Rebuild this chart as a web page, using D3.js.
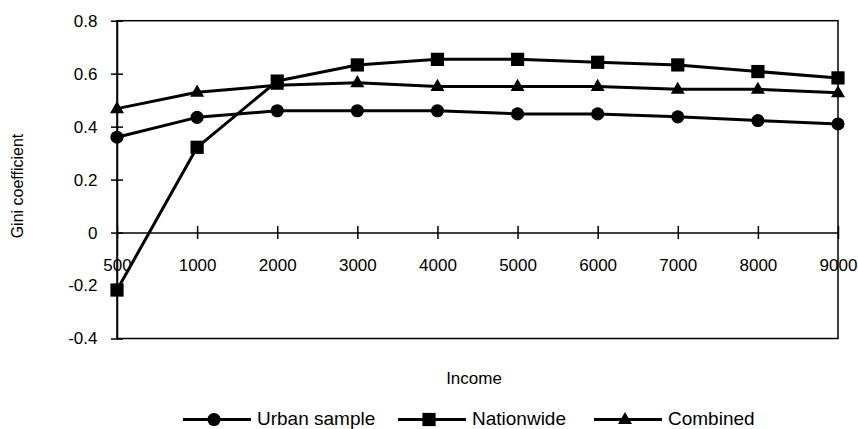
<!DOCTYPE html>
<html><head><meta charset="utf-8">
<script src="https://cdn.jsdelivr.net/npm/d3@7"></script>
<style>body{margin:0;background:#fff}svg{display:block}text{font-family:"Liberation Sans",Arial,sans-serif;fill:#000}</style>
</head><body><svg id="c" width="858" height="429"></svg>
<script>
const categories = ["500","1000","2000","3000","4000","5000","6000","7000","8000","9000"];
const urban    = [0.36, 0.435, 0.46, 0.46, 0.46, 0.448, 0.448, 0.437, 0.423, 0.41];
const national = [-0.217, 0.322, 0.572, 0.633, 0.654, 0.654, 0.643, 0.633, 0.608, 0.584];
const combined = [0.468, 0.53, 0.556, 0.566, 0.552, 0.552, 0.552, 0.541, 0.541, 0.528];
const yTicks = [-0.4, -0.2, 0, 0.2, 0.4, 0.6, 0.8];
const yTickLabels = ["-0.4", "-0.2", "0", "0.2", "0.4", "0.6", "0.8"];
const seriesNames = ["Urban sample", "Nationwide", "Combined"];
const seriesSymbols = ["circle", "square", "triangle"];

const svg = d3.select("#c");
const L = 117, R = 838, T = 20.7, B = 338.5;
const x = d3.scalePoint().domain(categories).range([L, R]).padding(0);
const y = d3.scaleLinear().domain([-0.4, 0.8]).range([B, T]);

// frame
svg.append("rect").attr("x", L).attr("y", T).attr("width", R - L).attr("height", B - T)
  .attr("fill", "none").attr("stroke", "#000").attr("stroke-width", 1.5);

// y axis
const yAxis = d3.axisLeft(y).tickValues(yTicks).tickSizeInner(6).tickSizeOuter(0)
  .tickFormat((d, i) => yTickLabels[i]);
const gy = svg.append("g").attr("transform", `translate(${L},0)`).call(yAxis);
gy.select(".domain").attr("stroke-width", 1.5);
gy.selectAll(".tick line").attr("x1", -6).attr("x2", 6).attr("stroke-width", 1.5);
gy.selectAll(".tick text").attr("x", -19.5).attr("font-size", 17).attr("font-family", "Liberation Sans, Arial, sans-serif");

// x axis at zero
const xAxis = d3.axisBottom(x).tickSizeInner(6.5).tickSizeOuter(0);
const gx = svg.append("g").attr("transform", `translate(0,${y(0)})`).call(xAxis);
gx.select(".domain").attr("stroke-width", 1.5);
gx.selectAll(".tick line").attr("y1", -6.5).attr("y2", 6.5).attr("stroke-width", 1.5);
gx.selectAll(".tick text").attr("y", 38).attr("dy", 0).attr("font-size", 17).attr("font-family", "Liberation Sans, Arial, sans-serif");

// axis titles
svg.append("text").attr("x", 474).attr("y", 383.5).attr("text-anchor", "middle")
  .attr("font-size", 17).text("Income");
svg.append("text").attr("transform", "translate(22.5,186) rotate(-90)").attr("text-anchor", "middle")
  .attr("font-size", 16).text("Gini coefficient");

// series
const data = [urban, national, combined];
const symType = {circle: d3.symbolCircle, square: d3.symbolSquare, triangle: d3.symbolTriangle};
const symSize = {circle: 135, square: 175, triangle: 85};
const line = d3.line().x((d, i) => x(categories[i])).y(d => y(d));
function drawMarker(g, type, cx, cy) {
  g.append("path").attr("d", d3.symbol().type(symType[type]).size(symSize[type])())
    .attr("transform", `translate(${cx},${cy + (type === "triangle" ? 0.5 : 0)})`).attr("fill", "#000");
}
data.forEach((vals, si) => {
  svg.append("path").datum(vals).attr("d", line).attr("fill", "none")
    .attr("stroke", "#000").attr("stroke-width", 3).attr("stroke-linejoin", "round");
  const g = svg.append("g");
  vals.forEach((v, i) => drawMarker(g, seriesSymbols[si], x(categories[i]), y(v)));
});

// legend
const legendX = [183, 398, 594];
const legY = 419.5;
seriesNames.forEach((name, i) => {
  const g = svg.append("g");
  g.append("line").attr("x1", legendX[i]).attr("x2", legendX[i] + 68).attr("y1", legY).attr("y2", legY)
    .attr("stroke", "#000").attr("stroke-width", 3);
  drawMarker(g, seriesSymbols[i], legendX[i] + 31, legY);
  g.append("text").attr("x", legendX[i] + 74).attr("y", legY + 5.5).attr("font-size", 19).text(name);
});
</script></body></html>
